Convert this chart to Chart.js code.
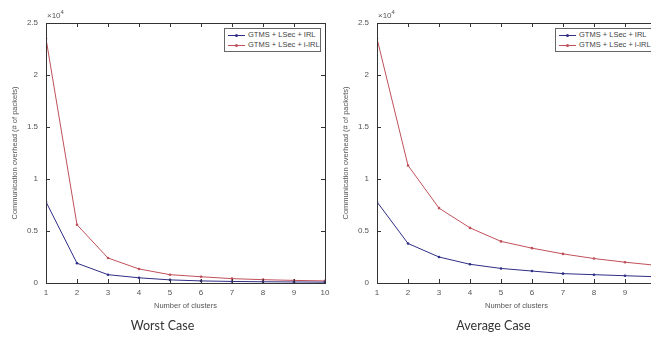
<!DOCTYPE html>
<html>
<head>
<meta charset="utf-8">
<script src="https://cdn.jsdelivr.net/npm/chart.js@4/dist/chart.umd.min.js"></script>
<style>
	html, body { margin: 0; padding: 0; background: #fff; overflow: hidden; width: 651px; height: 343px; }
	.wrap { position: absolute; top: 0; height: 343px; }
	.exp { position: absolute; top: 9px; font: 8px "Liberation Sans", Arial, sans-serif; color: #555; }
	.exp sup { font-size: 6px; }
	.legend { position: absolute; top: 28px; height: 21px; border: 1px solid #666; background: #fff;
		font: 7.5px "Liberation Sans", Arial, sans-serif; color: #444; padding: 1px 3px 0 3px; white-space: nowrap; }
	.legend div { height: 10px; line-height: 10px; }
	.legend span.sw { display: inline-block; width: 17px; height: 1px; vertical-align: middle; margin-right: 3px; position: relative; }
	.legend span.sw i { position: absolute; left: 7px; top: -1px; width: 3px; height: 3px; border-radius: 50%; }
</style>
</head>
<body>
<div class="wrap" style="left:0;width:335px"><canvas id="worst"></canvas></div>
<div class="wrap" style="left:331px;width:340px"><canvas id="avg"></canvas></div>
<div class="exp" style="left:47px">&times;10<sup>4</sup></div>
<div class="exp" style="left:378px">&times;10<sup>4</sup></div>
<div class="legend" id="legWorst" style="left:224px;width:89px"></div>
<div class="legend" id="legAvg" style="left:555px;width:92px"></div>
<script>
// number of clusters on the x axis
const clusters = [1, 2, 3, 4, 5, 6, 7, 8, 9, 10]
const seriesNames = ['GTMS + LSec + IRL', 'GTMS + LSec + i-IRL']
const seriesColors = ['#2e2e86', '#c0505a']
const titles = ['Worst Case', 'Average Case']

// communication overhead (# of packets)
const worstIRL = [7800, 1900, 800, 500, 300, 200, 150, 120, 100, 80]
const worstIIRL = [23500, 5600, 2400, 1350, 800, 600, 420, 320, 250, 200]
const avgIRL = [7800, 3800, 2500, 1800, 1400, 1150, 900, 800, 700, 600]
const avgIIRL = [23500, 11300, 7200, 5300, 4000, 3350, 2800, 2350, 2000, 1700]

const yTicks = [0, 5000, 10000, 15000, 20000, 25000]

// MATLAB-style box with inward ticks
const boxTicks = {
	id: 'boxTicks',
	afterDatasetsDraw(chart) {
		const ctx = chart.ctx
		const a = chart.chartArea
		const xs = chart.scales.x
		const ys = chart.scales.y
		ctx.save()
		ctx.strokeStyle = '#333'
		ctx.lineWidth = 1
		ctx.beginPath()
		xs.ticks.forEach((t) => {
			const px = Math.round(xs.getPixelForValue(t.value)) + 0.5
			ctx.moveTo(px, a.bottom); ctx.lineTo(px, a.bottom - 4)
			ctx.moveTo(px, a.top); ctx.lineTo(px, a.top + 4)
		})
		ys.ticks.forEach((t) => {
			const py = Math.round(ys.getPixelForValue(t.value)) + 0.5
			ctx.moveTo(a.left, py); ctx.lineTo(a.left + 4, py)
			ctx.moveTo(a.right, py); ctx.lineTo(a.right - 4, py)
		})
		ctx.stroke()
		ctx.strokeRect(Math.round(a.left) + 0.5, Math.round(a.top) + 0.5, Math.round(a.right - a.left), Math.round(a.bottom - a.top))
		ctx.restore()
	},
}

const tickFont = { family: '"Liberation Sans", Arial, sans-serif', size: 8 }

function makeChart(id, irl, iirl, title, padRight) {
	return new Chart(document.getElementById(id), {
		type: 'line',
		data: {
			labels: clusters,
			datasets: [
				{ label: seriesNames[0], data: irl, borderColor: seriesColors[0], backgroundColor: seriesColors[0] },
				{ label: seriesNames[1], data: iirl, borderColor: seriesColors[1], backgroundColor: seriesColors[1] },
			].map((d) => Object.assign(d, { borderWidth: 1, pointRadius: 1.3, pointBorderWidth: 0, tension: 0 })),
		},
		options: {
			responsive: true,
			maintainAspectRatio: false,
			animation: false,
			layout: { padding: { top: 23, right: padRight, left: 0, bottom: 10 } },
			plugins: {
				legend: { display: false },
				tooltip: { enabled: false },
				title: {
					display: true,
					position: 'bottom',
					text: title,
					color: '#333',
					font: { family: 'Lato, "Open Sans", sans-serif', size: 12.5, weight: 'normal' },
					padding: 0,
				},
			},
			scales: {
				x: {
					type: 'linear',
					min: 1,
					max: 10,
					afterFit: (s) => { s.height = 35 },
					grid: { display: false, drawTicks: false },
					border: { display: false },
					ticks: { stepSize: 1, font: tickFont, color: '#555', padding: 5, maxRotation: 0 },
					title: { display: true, text: 'Number of clusters', font: { family: tickFont.family, size: 7.5 }, color: '#555', padding: { top: 0, bottom: 8 } },
				},
				y: {
					min: 0,
					max: 25000,
					afterFit: (s) => { s.width = 46 },
					afterBuildTicks: (s) => { s.ticks = yTicks.map((v) => ({ value: v })) },
					grid: { display: false, drawTicks: false },
					border: { display: false },
					ticks: { font: tickFont, color: '#555', padding: 8, callback: (v) => String(v / 10000) },
					title: { display: true, text: 'Communication overhead (# of packets)', font: { family: tickFont.family, size: 7.5 }, color: '#555', padding: { top: 10, bottom: 0 } },
				},
			},
		},
		plugins: [boxTicks],
	})
}

makeChart('worst', worstIRL, worstIIRL, titles[0], 10)
makeChart('avg', avgIRL, avgIIRL, titles[1], 15)

function fillLegend(id) {
	const el = document.getElementById(id)
	seriesNames.forEach((name, i) => {
		const row = document.createElement('div')
		row.innerHTML = '<span class="sw" style="background:' + seriesColors[i] + '"><i style="background:' + seriesColors[i] + '"></i></span>' + name
		el.appendChild(row)
	})
}
fillLegend('legWorst')
fillLegend('legAvg')
</script>
</body>
</html>
